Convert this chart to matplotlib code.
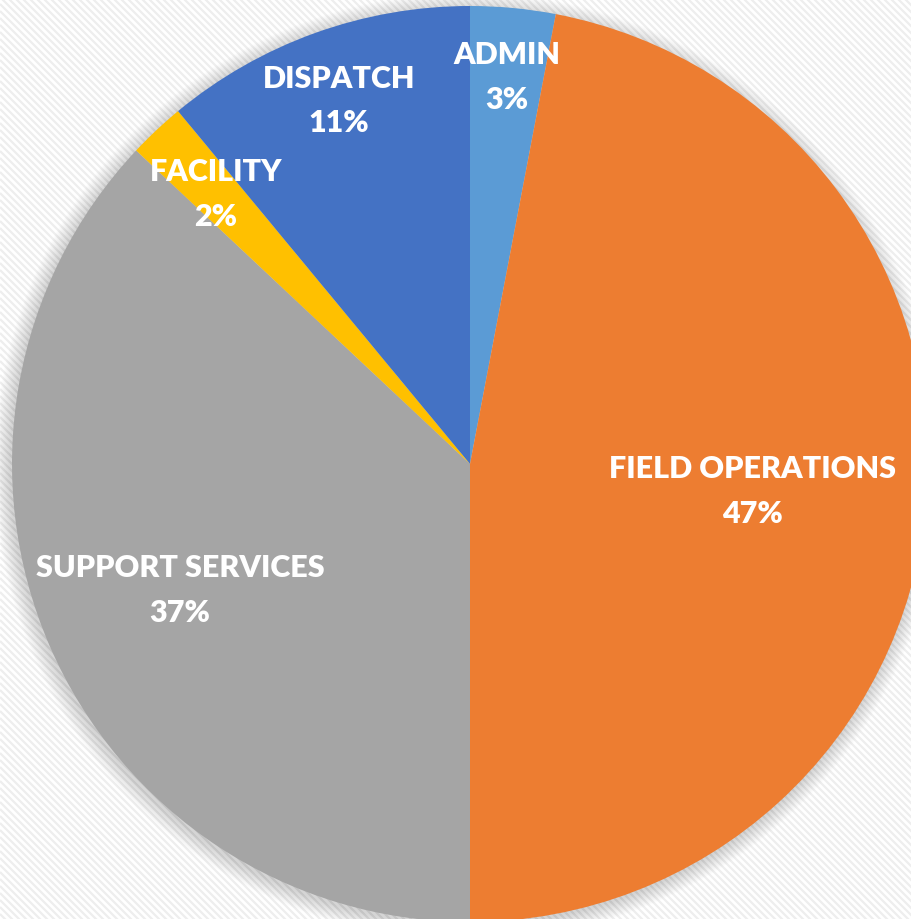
import numpy as np
import matplotlib
matplotlib.use("Agg")
import matplotlib.pyplot as plt
from matplotlib.patches import Circle

# Data
categories = ["ADMIN", "FIELD OPERATIONS", "SUPPORT SERVICES", "FACILITY", "DISPATCH"]
values = [3, 47, 37, 2, 11]
colors = ["#5B9BD5", "#ED7D31", "#A5A5A5", "#FFC000", "#4472C4"]
label_dist = [0.85, 0.62, 0.69, 0.81, 0.845]

W, H = 912, 920
fig = plt.figure(figsize=(W / 100, H / 100), dpi=100)
ax = fig.add_axes([0, 0, 1, 1])
fig.patch.set_facecolor("white")

# background diagonal stripes
for c in np.arange(-W, H + W, 7.0):
    xs = np.array([0, W])
    ys = c - xs
    ax.plot(xs, ys, color="#EEEEEE", lw=1.6, zorder=0, solid_capstyle="butt")

cx, cy, R = 470, H - 465, 458

# soft shadow
for i in range(14):
    ax.add_patch(Circle((cx - 2, cy - 3), R + 16 - i * 1.2, color="#000000",
                        alpha=0.012, lw=0, zorder=1))

wedges, _ = ax.pie(values, colors=colors, startangle=90, counterclock=False,
                   radius=R, center=(cx, cy), frame=True,
                   wedgeprops=dict(linewidth=0, zorder=2))
ax.set_xlim(0, W)
ax.set_ylim(0, H)
ax.set_aspect("equal")
ax.axis("off")

total = sum(values)
for w, name, v, d in zip(wedges, categories, values, label_dist):
    ang = np.deg2rad((w.theta1 + w.theta2) / 2)
    x = cx + d * R * np.cos(ang)
    y = cy + d * R * np.sin(ang)
    ax.text(x, y, f"{name}\n{round(100 * v / total)}%", ha="center", va="center",
            color="white", fontsize=22, fontweight="heavy", family="Lato",
            linespacing=1.72, zorder=5)

fig.savefig("out.png", dpi=100)
